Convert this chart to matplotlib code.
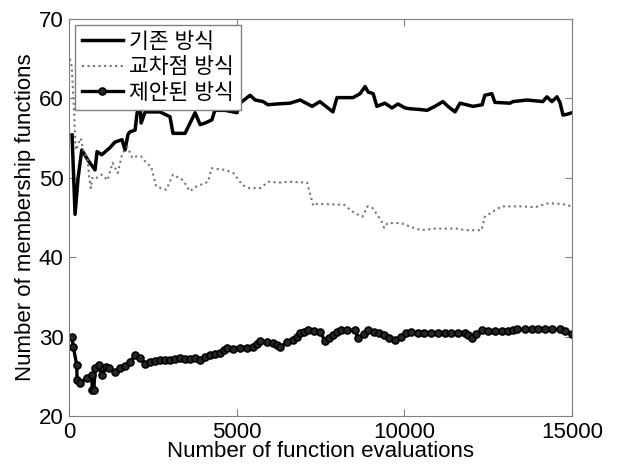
import matplotlib
matplotlib.use('Agg')
import matplotlib.pyplot as plt

plt.rcParams['font.family'] = ['Liberation Sans', 'Noto Sans CJK KR', 'DejaVu Sans']

labels = ['기존 방식', '교차점 방식', '제안된 방식']

# 기존 방식 (existing)
x_old = [90, 180, 270, 380, 570, 775, 835, 975, 1220, 1370, 1580, 1670, 1760, 1820, 1970,
         2030, 2120, 2150, 2270, 2560, 2710, 3010, 3100, 3460, 3610, 3760, 3910, 4060,
         4260, 4350, 4650, 5010, 5100, 5400, 5550, 5790, 5930, 6200, 6590, 6890, 7250,
         7480, 7870, 7990, 8470, 8680, 8830, 8920, 9070, 9180, 9420, 9630, 9810, 10020,
         10170, 10470, 10680, 10910, 11150, 11300, 11510, 11660, 12050, 12320, 12400,
         12610, 12700, 13150, 13240, 13660, 14130, 14250, 14400, 14550, 14640, 14730,
         14850, 15000]
y_old = [55.4, 45.4, 50.0, 53.5, 52.2, 51.0, 53.3, 52.9, 53.8, 54.5, 54.8, 53.5, 55.5,
         55.8, 56.0, 58.2, 59.0, 56.9, 58.3, 58.3, 58.3, 57.7, 55.6, 55.6, 56.9, 58.2,
         56.7, 56.9, 57.3, 58.5, 58.5, 58.2, 59.4, 60.4, 59.8, 59.6, 59.2, 59.3, 59.4,
         59.8, 59.0, 59.6, 58.3, 60.1, 60.1, 60.6, 61.5, 60.8, 60.6, 59.0, 59.4, 58.8,
         59.3, 58.8, 58.7, 58.6, 58.5, 59.0, 59.6, 59.0, 58.3, 59.4, 59.0, 59.2, 60.4,
         60.6, 59.5, 59.4, 59.6, 59.8, 59.6, 60.2, 59.6, 60.2, 59.5, 57.9, 58.0, 58.2]

# 교차점 방식 (crossover)
x_cross = [30, 80, 150, 200, 350, 450, 550, 600, 650, 700, 830, 980, 1150, 1300, 1450,
           1590, 1740, 1890, 2000, 2150, 2300, 2450, 2600, 2900, 3100, 3400, 3600, 3800,
           4150, 4250, 4650, 4900, 5170, 5370, 5700, 5950, 6300, 6550, 7100, 7280, 7330,
           7500, 8200, 8500, 8750, 8900, 9050, 9200, 9350, 9400, 9500, 9900, 10200,
           10500, 10900, 11600, 11800, 12300, 12400, 12700, 12900, 13500, 13900, 14300,
           14700, 15000]
y_cross = [65.0, 64.0, 58.5, 53.5, 55.0, 53.0, 52.6, 50.1, 48.7, 50.1, 50.0, 50.4, 49.7,
           51.9, 50.6, 53.1, 53.9, 52.5, 52.7, 52.7, 51.9, 51.4, 48.9, 48.5, 50.4, 49.7,
           48.3, 48.9, 49.5, 51.2, 51.0, 50.6, 49.1, 48.7, 48.7, 49.5, 49.4, 49.5, 49.4,
           46.5, 46.7, 46.7, 46.6, 45.6, 45.1, 46.4, 46.2, 45.3, 44.3, 43.7, 44.3, 44.3,
           43.8, 43.4, 43.6, 43.6, 43.4, 43.4, 45.1, 45.9, 46.4, 46.4, 46.3, 46.8, 46.7,
           46.4]

# 제안된 방식 (proposed)
x_prop = [80, 130, 230, 240, 330, 530, 680, 690, 740, 780, 880, 980, 1090, 1200, 1370,
          1520, 1670, 1820, 1970, 2120, 2270, 2420, 2570, 2720, 2870, 3010, 3160, 3310,
          3460, 3610, 3760, 3910, 4060, 4210, 4360, 4510, 4620, 4720, 4900, 5100, 5300,
          5490, 5600, 5700, 5900, 6090, 6200, 6300, 6500, 6680, 6800, 6890, 7000, 7130,
          7300, 7490, 7640, 7750, 7880, 8000, 8120, 8300, 8520, 8630, 8800, 8930, 9100,
          9230, 9400, 9550, 9720, 9900, 10050, 10200, 10400, 10600, 10800, 11000, 11200,
          11400, 11600, 11800, 11900, 12020, 12150, 12320, 12500, 12700, 12900, 13100,
          13250, 13370, 13600, 13800, 14000, 14200, 14400, 14650, 14800, 15000]
y_prop = [30.0, 28.7, 26.4, 24.5, 24.2, 24.8, 25.2, 23.3, 23.3, 26.0, 26.4, 25.2, 26.2,
          26.0, 25.6, 26.0, 26.3, 26.8, 27.7, 27.3, 26.6, 26.8, 26.9, 27.1, 27.0, 27.0,
          27.2, 27.3, 27.2, 27.2, 27.3, 27.1, 27.4, 27.7, 27.8, 27.9, 28.3, 28.6, 28.5,
          28.6, 28.6, 28.7, 29.1, 29.4, 29.3, 29.2, 28.9, 28.7, 29.3, 29.6, 30.0, 30.4,
          30.6, 30.8, 30.7, 30.6, 29.4, 29.8, 30.2, 30.6, 30.8, 30.8, 30.8, 29.8, 30.3,
          30.8, 30.6, 30.4, 30.2, 29.8, 29.6, 30.0, 30.4, 30.6, 30.5, 30.4, 30.4, 30.4,
          30.4, 30.4, 30.4, 30.4, 30.2, 29.8, 30.3, 30.8, 30.7, 30.7, 30.7, 30.7, 30.8,
          30.9, 30.9, 30.9, 30.9, 30.9, 30.9, 30.9, 30.7, 30.3]

fig = plt.figure(figsize=(6.18, 4.66), dpi=100)
ax = fig.add_axes([0.1117, 0.1073, 0.8139, 0.8519])

ax.plot(x_old, y_old, color='k', lw=2.5, label=labels[0])
ax.plot(x_cross, y_cross, color='0.45', lw=1.5, ls=':', label=labels[1])
ax.plot(x_prop, y_prop, color='k', lw=2.4, marker='o', ms=5, mfc='0.15', mec='k',
        mew=1.2, label=labels[2])

ax.set_xlim(0, 15000)
ax.set_ylim(20, 70)
ax.set_xticks([0, 5000, 10000, 15000])
ax.set_yticks([20, 30, 40, 50, 60, 70])
ax.tick_params(direction='in', length=5, labelsize=16, top=True, right=True, pad=4,
               color='0.5')
for s in ax.spines.values():
    s.set_color('0.5')

ax.set_xlabel('Number of function evaluations', fontsize=16, labelpad=-1)
ax.set_ylabel('Number of membership functions', fontsize=16, labelpad=2)

leg = ax.legend(loc='upper left', fontsize=15.5, fancybox=False, framealpha=1,
                edgecolor='0.5', borderaxespad=0.3, handlelength=1.9,
                handletextpad=0.3, labelspacing=0.2, borderpad=0.3)
leg.get_frame().set_linewidth(1.0)

fig.savefig('out.png', dpi=100)
